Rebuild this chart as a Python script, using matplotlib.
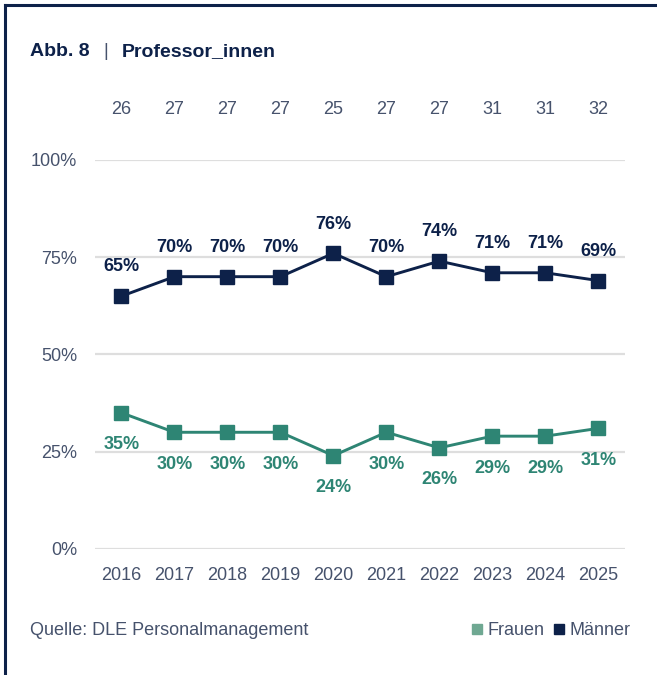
import matplotlib.pyplot as plt
from matplotlib.lines import Line2D

plt.rcParams['font.family'] = ['Liberation Sans', 'DejaVu Sans']

# data
years = ['2016', '2017', '2018', '2019', '2020', '2021', '2022', '2023', '2024', '2025']
counts = [26, 27, 27, 27, 25, 27, 27, 31, 31, 32]
maenner = [65, 70, 70, 70, 76, 70, 74, 71, 71, 69]
frauen = [35, 30, 30, 30, 24, 30, 26, 29, 29, 31]

navy = '#0d2149'
teal = '#2e8574'
text_col = '#46526c'

fig = plt.figure(figsize=(6.57, 6.75), dpi=100)
ax = fig.add_axes([0.1446, 0.1867, 0.8064, 0.5763])

x = list(range(len(years)))
ax.plot(x, maenner, color=navy, lw=2.1, marker='s', ms=10.5, zorder=3)
ax.plot(x, frauen, color=teal, lw=2.1, marker='s', ms=10.5, zorder=3)

for i in x:
    ax.annotate(f'{maenner[i]}%', (i, maenner[i]), xytext=(0, 15), textcoords='offset points',
                ha='center', va='bottom', color=navy, fontsize=13, fontweight='bold')
    ax.annotate(f'{frauen[i]}%', (i, frauen[i]), xytext=(0, -17), textcoords='offset points',
                ha='center', va='top', color=teal, fontsize=13, fontweight='bold')
    ax.text(i, 1.13, str(counts[i]), transform=ax.get_xaxis_transform(),
            ha='center', va='center', color=text_col, fontsize=13)

ax.set_xlim(-0.5, len(years) - 0.5)
ax.set_ylim(0, 100)
ax.set_yticks([0, 25, 50, 75, 100])
ax.set_yticklabels(['0%', '25%', '50%', '75%', '100%'])
ax.set_xticks(x)
ax.set_xticklabels(years)
ax.grid(axis='y', color='#dedede', lw=1.6)
ax.set_axisbelow(True)
for s in ax.spines.values():
    s.set_visible(False)
ax.tick_params(length=0, labelsize=13, labelcolor=text_col)
ax.tick_params(axis='y', pad=13)
ax.tick_params(axis='x', pad=13)

fig.text(0.046, 0.923, 'Abb. 8', fontsize=14, fontweight='bold', color=navy, va='center')
fig.text(0.158, 0.923, '|', fontsize=13, color=text_col, va='center')
fig.text(0.185, 0.923, 'Professor_innen', fontsize=14, fontweight='bold', color=navy, va='center')

fig.text(0.046, 0.066, 'Quelle: DLE Personalmanagement', fontsize=13, color=text_col, va='center')
handles = [Line2D([], [], marker='s', ls='', color='#6fa892', ms=6.5),
           Line2D([], [], marker='s', ls='', color=navy, ms=6.5)]
fig.legend(handles, ['Frauen', 'Männer'], loc='center right', bbox_to_anchor=(0.985, 0.066),
           ncol=2, frameon=False, fontsize=13, handletextpad=0.1, columnspacing=0.3,
           handlelength=1.0, labelcolor=text_col)

# frame
fig.add_artist(Line2D([0.008, 1.0], [0.992, 0.992], color=navy, lw=2.2))
fig.add_artist(Line2D([0.008, 0.008], [0.0, 0.992], color=navy, lw=2.2))

fig.savefig('out.png', dpi=100)
